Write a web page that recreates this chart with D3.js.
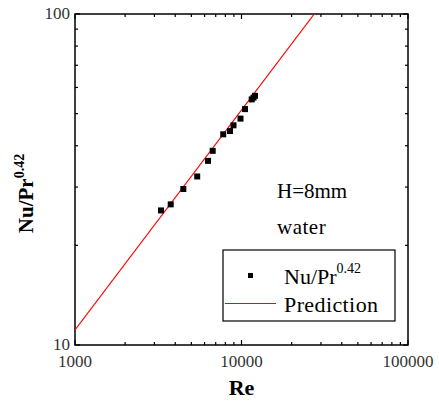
<!DOCTYPE html>
<html>
<head>
<meta charset="utf-8">
<script src="https://cdn.jsdelivr.net/npm/d3@7"></script>
<style>
  body { margin: 0; background: #fff; }
  text { font-family: 'Liberation Serif', 'Times New Roman', serif; }
</style>
</head>
<body>
<div id="chart"></div>
<script>
let margin = { top: 14, left: 75, right: 31, bottom: 56 }
let width = 439 - margin.left - margin.right
let height = 401 - margin.top - margin.bottom

// measured points
let reValues = [3286, 3757, 4473, 5419, 6293, 6714, 7766, 8530, 8954, 9862, 10496, 11515, 11806, 12052]
let nuValues = [25.5, 26.6, 29.6, 32.3, 36.0, 38.6, 43.3, 44.3, 46.1, 48.3, 51.6, 55.2, 55.9, 56.6]

// prediction line, endpoints
let predRe = [1000, 27350]
let predNu = [11.1, 100]

let xTickLabels = [1000, 10000, 100000]
let yTickLabels = [10, 100]
let legendLabels = ['Nu/Pr', 'Prediction']

let svg = d3.select('#chart')
  .append('svg')
  .attr('width', width + margin.left + margin.right)
  .attr('height', height + margin.top + margin.bottom)
  .append('g')
  .attr('transform', `translate(${margin.left},${margin.top})`)

let xScale = d3.scaleLog().domain([1000, 100000]).range([0, width])
let yScale = d3.scaleLog().domain([10, 100]).range([height, 0])

svg.append('clipPath').attr('id', 'clip')
  .append('rect').attr('width', width).attr('height', height)

// minor + major ticks
let xTicks = xScale.ticks()
let yTicks = yScale.ticks()

function isMajor(v) {
  return Math.abs(Math.log10(v) - Math.round(Math.log10(v))) < 1e-9
}

svg.selectAll('.xtick-b')
  .data(xTicks)
  .enter()
  .append('line')
  .attr('x1', d => xScale(d))
  .attr('x2', d => xScale(d))
  .attr('y1', height)
  .attr('y2', d => height - (isMajor(d) ? 5 : 3))
  .attr('stroke', '#000')
  .attr('stroke-width', 1.2)

svg.selectAll('.xtick-t')
  .data(xTicks)
  .enter()
  .append('line')
  .attr('x1', d => xScale(d))
  .attr('x2', d => xScale(d))
  .attr('y1', 0)
  .attr('y2', d => (isMajor(d) ? 5 : 3))
  .attr('stroke', '#000')
  .attr('stroke-width', 1.2)

svg.selectAll('.ytick-l')
  .data(yTicks)
  .enter()
  .append('line')
  .attr('y1', d => yScale(d))
  .attr('y2', d => yScale(d))
  .attr('x1', 0)
  .attr('x2', d => (isMajor(d) ? 5 : 3))
  .attr('stroke', '#000')
  .attr('stroke-width', 1.2)

svg.selectAll('.ytick-r')
  .data(yTicks)
  .enter()
  .append('line')
  .attr('y1', d => yScale(d))
  .attr('y2', d => yScale(d))
  .attr('x1', width)
  .attr('x2', d => width - (isMajor(d) ? 5 : 3))
  .attr('stroke', '#000')
  .attr('stroke-width', 1.2)

// frame
svg.append('rect')
  .attr('width', width)
  .attr('height', height)
  .attr('fill', 'none')
  .attr('stroke', '#000')
  .attr('stroke-width', 1.5)

// tick labels
svg.selectAll('.xlabel')
  .data(xTickLabels)
  .enter()
  .append('text')
  .attr('x', d => xScale(d))
  .attr('y', height + 22)
  .attr('text-anchor', 'middle')
  .attr('font-size', 17)
  .attr('fill', '#333')
  .text(d => d)

svg.selectAll('.ylabel')
  .data(yTickLabels)
  .enter()
  .append('text')
  .attr('x', -5)
  .attr('y', d => yScale(d) - 1)
  .attr('dy', '0.34em')
  .attr('text-anchor', 'end')
  .attr('font-size', 17)
  .attr('fill', '#333')
  .text(d => d)

// axis titles
svg.append('text')
  .attr('x', width / 2)
  .attr('y', height + 50)
  .attr('text-anchor', 'middle')
  .attr('font-size', 22)
  .attr('font-weight', 'bold')
  .text('Re')

let yTitle = svg.append('text')
  .attr('transform', `translate(${-42},${height / 2 + 14}) rotate(-90)`)
  .attr('text-anchor', 'middle')
  .attr('font-size', 21)
  .attr('font-weight', 'bold')
yTitle.append('tspan').text('Nu/Pr')
yTitle.append('tspan').attr('font-size', 14).attr('dy', -9).text('0.42')

// prediction line
let line = d3.line()
  .x(d => xScale(d[0]))
  .y(d => yScale(d[1]))

svg.append('path')
  .datum(d3.zip(predRe, predNu))
  .attr('d', line)
  .attr('fill', 'none')
  .attr('stroke', '#ff0000')
  .attr('stroke-width', 1.2)
  .attr('clip-path', 'url(#clip)')

// points
let sq = 6
svg.selectAll('.point')
  .data(d3.zip(reValues, nuValues))
  .enter()
  .append('rect')
  .attr('x', d => xScale(d[0]) - sq / 2)
  .attr('y', d => yScale(d[1]) - sq / 2)
  .attr('width', sq)
  .attr('height', sq)
  .attr('fill', '#000')

// annotation
svg.append('text')
  .attr('x', 202)
  .attr('y', 184)
  .attr('font-size', 21)
  .text('H=8mm')
svg.append('text')
  .attr('x', 202)
  .attr('y', 220)
  .attr('font-size', 21)
  .attr('letter-spacing', 0.5)
  .text('water')

// legend
let legend = svg.append('g').attr('transform', 'translate(148,236)')
legend.append('rect')
  .attr('width', 172)
  .attr('height', 71)
  .attr('fill', '#fff')
  .attr('stroke', '#000')
  .attr('stroke-width', 1.2)
legend.append('rect')
  .attr('x', 25)
  .attr('y', 23)
  .attr('width', 5)
  .attr('height', 5)
  .attr('fill', '#000')
legend.append('line')
  .attr('x1', 2)
  .attr('x2', 53)
  .attr('y1', 53.5)
  .attr('y2', 53.5)
  .attr('stroke', '#ff0000')
  .attr('stroke-width', 1.2)
let leg1 = legend.append('text')
  .attr('x', 61)
  .attr('y', 34)
  .attr('font-size', 22)
leg1.append('tspan').text(legendLabels[0])
leg1.append('tspan').attr('font-size', 14).attr('dy', -11).text('0.42')
legend.append('text')
  .attr('x', 61)
  .attr('y', 62)
  .attr('font-size', 22)
  .attr('letter-spacing', 0.4)
  .text(legendLabels[1])
</script>
</body>
</html>
